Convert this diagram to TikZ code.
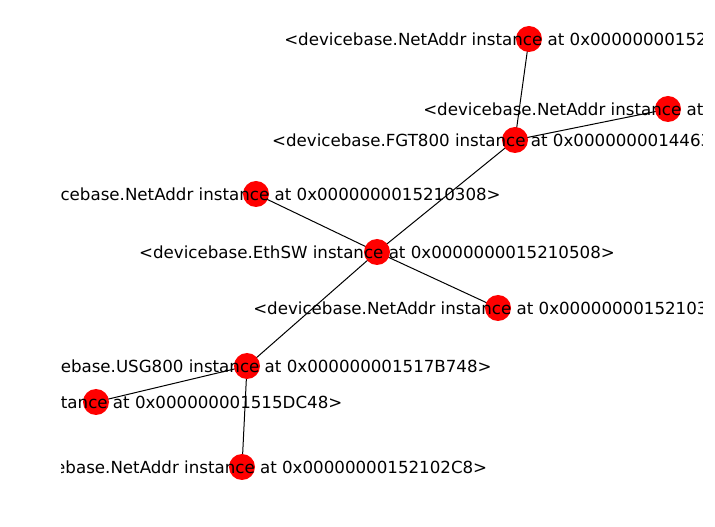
\documentclass[tikz,border=0pt]{standalone}
\usepackage{fontspec}
\setmainfont{DejaVu Sans}
\usetikzlibrary{backgrounds}
\begin{document}
\begin{tikzpicture}[x=0.75pt,y=-0.75pt,
  dot/.style={circle,fill=red,draw=none,minimum size=19.5pt,inner sep=0pt},
  lab/.style={inner sep=0pt,font=\fontsize{12.5pt}{15pt}\selectfont,text=black},
  edge/.style={draw=black,line width=0.75pt}]
\useasboundingbox (0,0) rectangle (715,527);
\begin{scope}
\clip (61.5,0) rectangle (702,527);
\node[dot] (A) at (529,39) {};
\node[dot] (B) at (668,109) {};
\node[dot] (C) at (515,140) {};
\node[dot] (D) at (256,194) {};
\node[dot] (E) at (377,252) {};
\node[dot] (F) at (498,308) {};
\node[dot] (G) at (247,366) {};
\node[dot] (H) at (96,402) {};
\node[dot] (I) at (242,467) {};
\begin{scope}[on background layer]
\fill[white] (0,0) rectangle (715,527);
\draw[edge] (A.center) -- (C.center);
\draw[edge] (B.center) -- (C.center);
\draw[edge] (C.center) -- (E.center);
\draw[edge] (D.center) -- (E.center);
\draw[edge] (E.center) -- (F.center);
\draw[edge] (E.center) -- (G.center);
\draw[edge] (G.center) -- (H.center);
\draw[edge] (G.center) -- (I.center);
\end{scope}
\node[lab] (lA) at (A) {<devicebase.NetAddr instance at 0x0000000015210448>};
\node[lab] (lB) at (B) {<devicebase.NetAddr instance at 0x0000000015210488>};
\node[lab] (lC) at (C) {<devicebase.FGT800 instance at 0x0000000014463A48>};
\node[lab] (lD) at (D) {<devicebase.NetAddr instance at 0x0000000015210308>};
\node[lab] (lE) at (E) {<devicebase.EthSW instance at 0x0000000015210508>};
\node[lab] (lF) at (F) {<devicebase.NetAddr instance at 0x0000000015210348>};
\node[lab] (lG) at (G) {<devicebase.USG800 instance at 0x000000001517B748>};
\node[lab] (lH) at (H) {<devicebase.NetAddr instance at 0x000000001515DC48>};
\node[lab] (lI) at (I) {<devicebase.NetAddr instance at 0x00000000152102C8>};
\end{scope}
\end{tikzpicture}
\end{document}
